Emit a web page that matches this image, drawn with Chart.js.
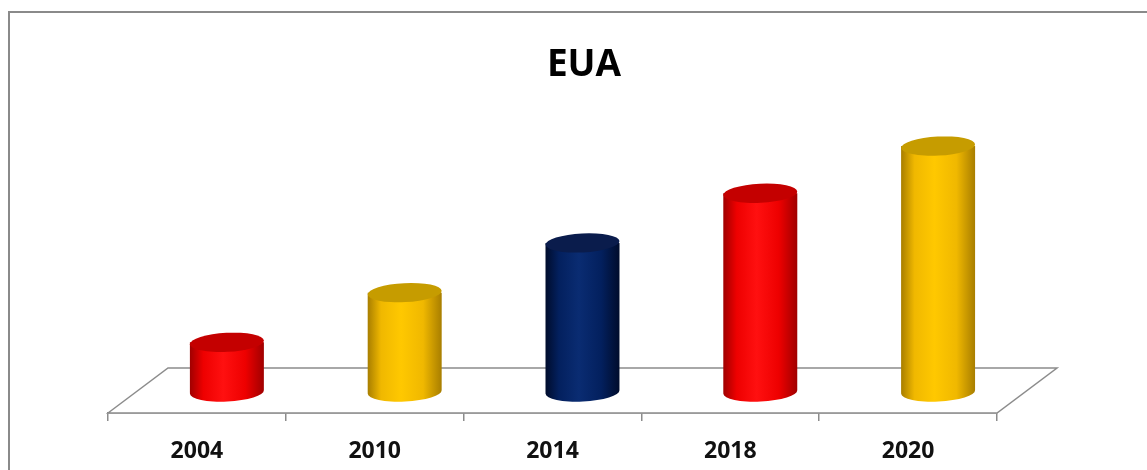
<!DOCTYPE html>
<html><head><meta charset="utf-8">
<script src="https://cdn.jsdelivr.net/npm/chart.js@4/dist/chart.umd.min.js"></script>
<style>html,body{margin:0;padding:0;background:#fff;overflow:hidden}#wrap{width:1147px;height:470px;position:relative}</style>
</head><body><div id="wrap"><canvas id="c" width="1147" height="470"></canvas></div>
<script>
const categories = ['2004', '2010', '2014', '2018', '2020'];
const values = [1.0, 2.0, 3.0, 4.0, 4.95];
const barColorKeys = ['red', 'gold', 'navy', 'red', 'gold'];
const titleText = 'EUA';

const palettes = {
  red:  { edge: '#a00000', mid: '#ee0000', light: '#ff1010', top: '#c40000' },
  gold: { edge: '#a87e00', mid: '#f0b800', light: '#ffc800', top: '#c69c00' },
  navy: { edge: '#000c2c', mid: '#03205e', light: '#0a2c72', top: '#0a1c4c' }
};

const FLOOR_DX = 60, FLOOR_DY = 45;
const CYL_DX = 30, CYL_DY = 21, CYL_RX = 37, CYL_RY = 9.5, CYL_ROT = -0.05;

function drawCylinder(ctx, cx, topY, baseY, pal) {
  const g = ctx.createLinearGradient(cx - CYL_RX, 0, cx + CYL_RX, 0);
  g.addColorStop(0, pal.edge);
  g.addColorStop(0.18, pal.mid);
  g.addColorStop(0.45, pal.light);
  g.addColorStop(0.75, pal.mid);
  g.addColorStop(1, pal.edge);
  ctx.beginPath();
  ctx.moveTo(cx - CYL_RX, topY);
  ctx.lineTo(cx - CYL_RX, baseY);
  ctx.ellipse(cx, baseY, CYL_RX, CYL_RY, CYL_ROT, Math.PI, 0, true);
  ctx.lineTo(cx + CYL_RX, topY);
  ctx.closePath();
  ctx.fillStyle = g;
  ctx.fill();
  ctx.beginPath();
  ctx.ellipse(cx, topY, CYL_RX, CYL_RY, CYL_ROT, 0, Math.PI * 2);
  ctx.fillStyle = pal.top;
  ctx.fill();
}

const scenePlugin = {
  id: 'scene',
  beforeDraw(chart) {
    const ctx = chart.ctx;
    ctx.save();
    ctx.fillStyle = '#fff';
    ctx.fillRect(0, 0, chart.width, chart.height);
    ctx.restore();
  },
  beforeDatasetsDraw(chart) {
    const ctx = chart.ctx, a = chart.chartArea;
    ctx.save();
    ctx.beginPath();
    ctx.moveTo(a.left, a.bottom);
    ctx.lineTo(a.left + FLOOR_DX, a.bottom - FLOOR_DY);
    ctx.lineTo(a.right + FLOOR_DX, a.bottom - FLOOR_DY);
    ctx.lineTo(a.right, a.bottom);
    ctx.closePath();
    ctx.fillStyle = '#fff';
    ctx.fill();
    ctx.strokeStyle = '#8c8c8c';
    ctx.lineWidth = 1.5;
    ctx.stroke();
    const meta = chart.getDatasetMeta(0);
    meta.data.forEach((bar, i) => {
      drawCylinder(ctx, bar.x + CYL_DX, bar.y - CYL_DY, bar.base - CYL_DY, palettes[barColorKeys[i]]);
    });
    ctx.restore();
    return false;
  },
  afterDraw(chart) {
    const ctx = chart.ctx;
    ctx.save();
    ctx.fillStyle = '#000';
    ctx.font = 'bold 37px "Open Sans"';
    ctx.textAlign = 'center';
    ctx.textBaseline = 'alphabetic';
    ctx.fillText(titleText, 584, 76);
    ctx.strokeStyle = '#8a8a8a';
    ctx.lineWidth = 2;
    ctx.beginPath();
    ctx.moveTo(9, chart.height);
    ctx.lineTo(9, 12);
    ctx.lineTo(chart.width, 12);
    ctx.stroke();
    ctx.restore();
  }
};

new Chart(document.getElementById('c'), {
  type: 'bar',
  data: {
    labels: categories,
    datasets: [{ data: values, backgroundColor: barColorKeys.map(k => palettes[k].mid) }]
  },
  options: {
    responsive: false,
    devicePixelRatio: 1,
    animation: false,
    layout: { padding: { left: 108, right: 150, top: 100, bottom: 0 } },
    plugins: { legend: { display: false }, tooltip: { enabled: false }, title: { display: false } },
    scales: {
      y: { display: false, min: 0, max: 6.3 },
      x: {
        offset: true,
        afterFit(s) { s.height = 57; },
        border: { display: true, color: '#8c8c8c', width: 1.5 },
        grid: { display: true, drawOnChartArea: false, drawTicks: true, tickLength: 8, offset: true, color: '#8c8c8c', lineWidth: 1.5 },
        ticks: { color: '#111', padding: 17, font: { family: '"Open Sans"', weight: 'bold', size: 23 } }
      }
    }
  },
  plugins: [scenePlugin]
});
</script></body></html>
